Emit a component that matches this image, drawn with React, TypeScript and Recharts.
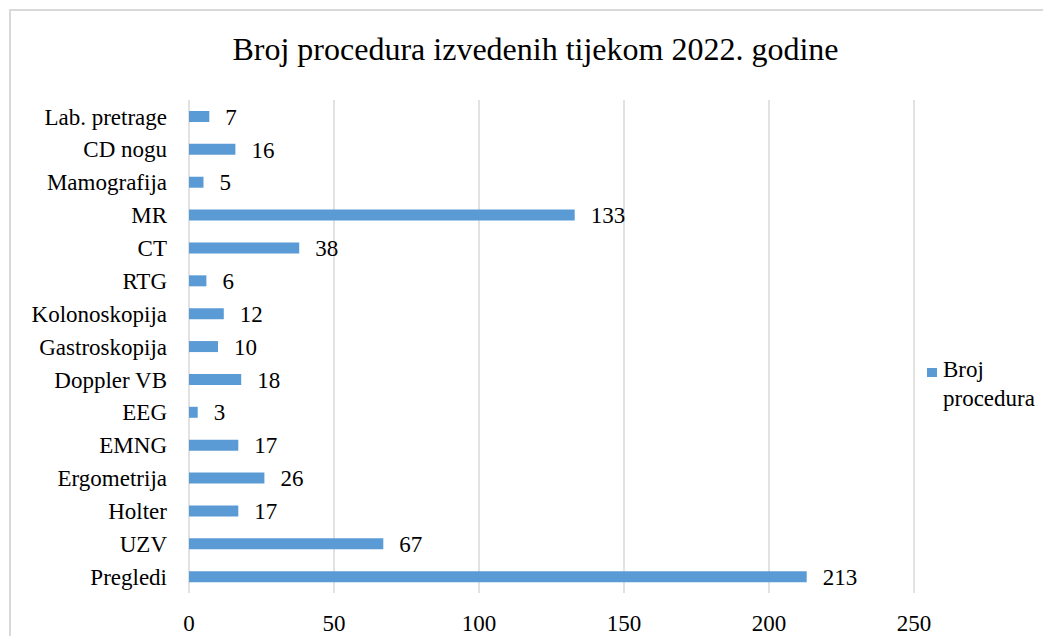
import { BarChart, Bar, XAxis, YAxis, CartesianGrid, Legend, LabelList } from 'recharts';

const categories = [
  'Pregledi',
  'UZV',
  'Holter',
  'Ergometrija',
  'EMNG',
  'EEG',
  'Doppler VB',
  'Gastroskopija',
  'Kolonoskopija',
  'RTG',
  'CT',
  'MR',
  'Mamografija',
  'CD nogu',
  'Lab. pretrage',
];

const values = [213, 67, 17, 26, 17, 3, 18, 10, 12, 6, 38, 133, 5, 16, 7];

const xTicks = [0, 50, 100, 150, 200, 250];

const seriesName = 'Broj procedura';
const title = 'Broj procedura izvedenih tijekom 2022. godine';

const FONT = '"Liberation Serif", "Times New Roman", serif';
const BLUE = '#5b9bd5';
const GRID = '#d9d9d9';

const data = categories.map((name, i) => ({ name, value: values[i] }));

function LegendBox() {
  return (
    <div style={{ display: 'flex', fontFamily: FONT, fontSize: 23, lineHeight: '29px', color: '#000' }}>
      <div style={{ width: 10, height: 9, background: BLUE, marginTop: 13, marginRight: 6, flexShrink: 0 }} />
      <div style={{ width: 104 }}>{seriesName}</div>
    </div>
  );
}

export default function App() {
  // only top + left frame edges are visible in the cropped original
  return (
    <div style={{ position: 'relative', width: 1043, height: 628, overflow: 'hidden', background: '#fff' }}>
      <style>{'html, body { overflow: hidden; }'}</style>
      <div
        style={{
          position: 'absolute',
          left: 1,
          top: 1,
          width: 1042,
          height: 627,
          borderTop: `2px solid ${GRID}`,
          borderLeft: `2px solid ${GRID}`,
          boxSizing: 'border-box',
        }}
      />
      <div
        style={{
          position: 'absolute',
          left: 0,
          top: 25,
          width: 1043,
          paddingLeft: 12,
          boxSizing: 'border-box',
          textAlign: 'center',
          fontFamily: FONT,
          fontSize: 32,
          lineHeight: '32px',
          color: '#000',
        }}
      >
        {title}
      </div>
      <div style={{ position: 'absolute', left: 0, top: 0 }}>
        <BarChart
          width={1043}
          height={636}
          data={data}
          layout="vertical"
          margin={{ top: 92, right: 17, left: 0, bottom: 11 }}
          barSize={11}
        >
          <CartesianGrid horizontal={false} stroke={GRID} strokeWidth={1.5} />
          <XAxis
            type="number"
            domain={[0, 250]}
            ticks={xTicks}
            axisLine={false}
            tickLine={false}
            tickSize={0}
            tickMargin={22}
            height={40}
            tick={{ fontSize: 23, fill: '#000', fontFamily: FONT }}
          />
          <YAxis
            type="category"
            dataKey="name"
            reversed
            width={181}
            axisLine={false}
            tickLine={false}
            tickSize={0}
            tickMargin={22}
            interval={0}
            tick={{ fontSize: 23, fill: '#000', fontFamily: FONT }}
          />
          <Legend
            layout="vertical"
            align="right"
            verticalAlign="middle"
            width={120}
            wrapperStyle={{ left: 919, top: 347, width: 120 }}
            content={() => <LegendBox />}
          />
          <Bar dataKey="value" name={seriesName} fill={BLUE} isAnimationActive={false}>
            <LabelList
              dataKey="value"
              position="right"
              offset={16}
              style={{ fontSize: 23, fill: '#000', fontFamily: FONT }}
            />
          </Bar>
        </BarChart>
      </div>
    </div>
  );
}
